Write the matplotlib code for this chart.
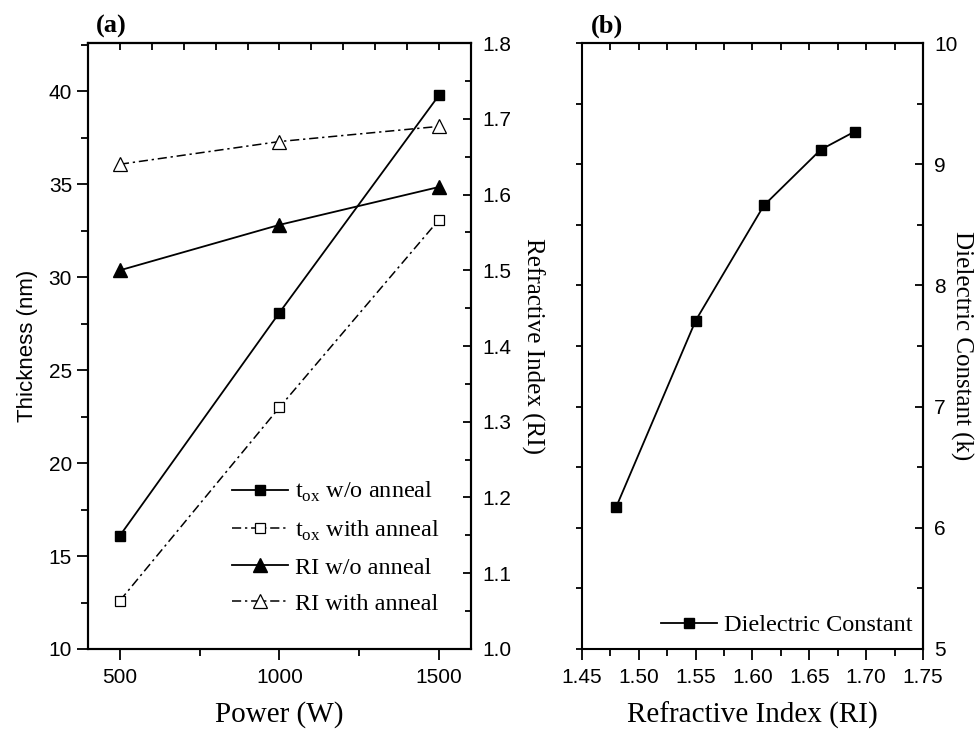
import numpy as np
import matplotlib.pyplot as plt
from matplotlib.ticker import MultipleLocator, FormatStrFormatter

plt.rcParams['font.family'] = 'Liberation Sans'
plt.rcParams['mathtext.fontset'] = 'custom'
plt.rcParams['mathtext.rm'] = 'Liberation Serif'
plt.rcParams['axes.linewidth'] = 1.5

# panel (a) data
power = [500, 1000, 1500]
tox_no_anneal = [16.1, 28.1, 39.8]
tox_anneal = [12.6, 23.0, 33.1]
ri_no_anneal = [1.50, 1.56, 1.61]
ri_anneal = [1.64, 1.67, 1.69]

# panel (b) data
ri_b = [1.48, 1.55, 1.61, 1.66, 1.69]
k_b = [6.17, 7.71, 8.66, 9.12, 9.27]

serif = 'Liberation Serif'
dashdot = (0, (6, 2.5, 1.5, 2.5))
tick_fs = 15

fig = plt.figure(figsize=(9.8, 7.3), dpi=100)
ax = fig.add_axes([0.0898, 0.111, 0.3908, 0.830])
ax2 = ax.twinx()

l1, = ax.plot(power, tox_no_anneal, 'k-', marker='s', ms=7, mfc='k', lw=1.3)
l2, = ax.plot(power, tox_anneal, 'k', ls=dashdot, marker='s', ms=7, mfc='white', mew=0.9, lw=1.1)
l3, = ax2.plot(power, ri_no_anneal, 'k-', marker='^', ms=10, mfc='k', lw=1.3)
l4, = ax2.plot(power, ri_anneal, 'k', ls=dashdot, marker='^', ms=10, mfc='white', mew=0.9, lw=1.1)

ax.set_xlim(400, 1600)
ax.set_ylim(10, 42.6)
ax2.set_ylim(1.0, 1.8)
ax.set_xticks([500, 1000, 1500])
ax.xaxis.set_minor_locator(MultipleLocator(250))
ax.yaxis.set_major_locator(MultipleLocator(5))
ax.yaxis.set_minor_locator(MultipleLocator(2.5))
ax2.yaxis.set_major_locator(MultipleLocator(0.1))
ax2.yaxis.set_minor_locator(MultipleLocator(0.05))
ax2.yaxis.set_major_formatter(FormatStrFormatter('%.1f'))

ax.tick_params(axis='both', which='major', direction='out', length=8, width=1.3, labelsize=tick_fs)
ax.tick_params(axis='x', which='major', pad=6)
ax.tick_params(axis='both', which='minor', direction='out', length=5, width=1.3)
ax.tick_params(axis='x', top=False)
ax2.tick_params(axis='y', which='major', direction='in', length=6, width=1.3, labelsize=tick_fs, pad=8)
ax2.tick_params(axis='y', which='minor', direction='in', length=4, width=1.3)

top_a = ax.secondary_xaxis('top')
top_a.xaxis.set_major_locator(MultipleLocator(100))
top_a.tick_params(direction='in', length=5, width=1.3, labeltop=False)

ax.set_xlabel('Power (W)', fontsize=21, family=serif, labelpad=10)
ax.set_ylabel('Thickness (nm)', fontsize=16, labelpad=8)
ax2.set_ylabel('Refractive Index (RI)', fontsize=18, family=serif, rotation=270, labelpad=24)

leg = ax2.legend([l1, l2, l3, l4],
                 [r't$_{\mathrm{ox}}$ w/o anneal', r't$_{\mathrm{ox}}$ with anneal',
                  'RI w/o anneal', 'RI with anneal'],
                 loc='lower right', bbox_to_anchor=(0.975, 0.02), frameon=False,
                 prop={'family': serif, 'size': 17.5}, handlelength=2.3,
                 handletextpad=0.3, labelspacing=0.58, numpoints=1)

# panel (b)
bx = fig.add_axes([0.5939, 0.111, 0.3479, 0.830])
bx.plot(ri_b, k_b, 'k-', marker='s', ms=7, mfc='k', lw=1.3, label='Dielectric Constant')
bx.set_xlim(1.45, 1.75)
bx.set_ylim(5, 10)
bx.xaxis.set_major_locator(MultipleLocator(0.05))
bx.xaxis.set_minor_locator(MultipleLocator(0.025))
bx.xaxis.set_major_formatter(FormatStrFormatter('%.2f'))
bx.yaxis.set_major_locator(MultipleLocator(1))
bx.yaxis.set_minor_locator(MultipleLocator(0.5))
bx.tick_params(axis='x', which='major', direction='out', length=8, width=1.3, labelsize=tick_fs, pad=6)
bx.tick_params(axis='x', which='minor', direction='out', length=5, width=1.3)
bx.tick_params(axis='y', which='both', direction='out', length=4, width=1.3, labelleft=False)

top_b = bx.secondary_xaxis('top')
top_b.xaxis.set_major_locator(MultipleLocator(0.025))
top_b.tick_params(direction='in', length=5, width=1.3, labeltop=False)

right_b = bx.secondary_yaxis('right')
right_b.yaxis.set_major_locator(MultipleLocator(1))
right_b.yaxis.set_minor_locator(MultipleLocator(0.5))
right_b.tick_params(which='major', direction='in', length=6, width=1.3, labelsize=tick_fs, pad=8)
right_b.tick_params(which='minor', direction='in', length=4, width=1.3)
right_b.set_ylabel('Dielectric Constant (k)', fontsize=18, family=serif, rotation=270, labelpad=11)

bx.set_xlabel('Refractive Index (RI)', fontsize=21, family=serif, labelpad=10)
bx.legend(loc='lower right', bbox_to_anchor=(1.035, -0.015), frameon=False,
          prop={'family': serif, 'size': 17.5}, handlelength=2.3,
          handletextpad=0.3, numpoints=1)

fig.text(0.114, 0.964, '(a)', fontsize=19, family=serif, weight='bold', va='center', ha='center')
fig.text(0.619, 0.964, '(b)', fontsize=19, family=serif, weight='bold', va='center', ha='center')

fig.savefig('out.png', dpi=100)
